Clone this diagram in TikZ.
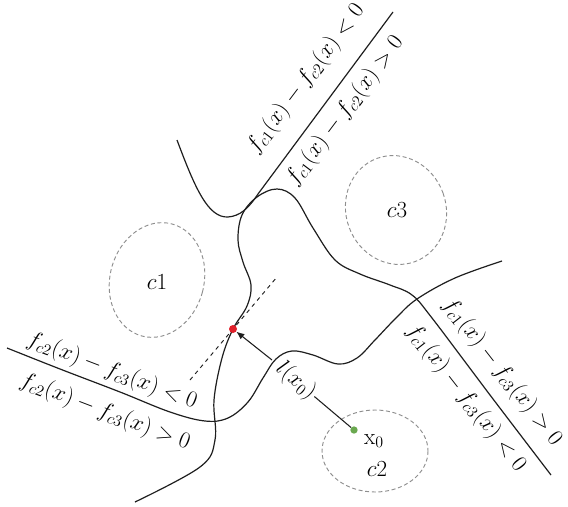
\documentclass[tikz,border=0pt]{standalone}
\usepackage{amsmath,amssymb}
\usepackage{tikz}
\usetikzlibrary{arrows.meta,positioning,calc}
\definecolor{ink}{HTML}{1E1E1E}
\definecolor{ashgray}{HTML}{8E8E8E}
\definecolor{dotred}{HTML}{E0202A}
\definecolor{dotgreen}{HTML}{6AA84F}

\begin{document}
\begin{tikzpicture}[x=0.75pt,y=-0.75pt,font=\fontsize{18}{21}\selectfont,
  bound/.style={ink,line width=0.9pt},
  region/.style={ashgray,densely dashed,line width=0.7pt},
  tangent/.style={ink,dashed,line width=0.7pt},
  dot/.style={circle,inner sep=0pt,minimum size=#1},
  lbl/.style={inner sep=1pt}]
  \useasboundingbox (0,0) rectangle (568,507);
  % class regions
  \draw[region,rotate around={-15:(157,280)}] (157,280) ellipse (47 and 58);
  \draw[region,rotate around={20:(396,210)}] (396,210) ellipse (50 and 55);
  \draw[region] (375,451) ellipse (53 and 41);
  \node[lbl] (c1) at (157,282) {$c1$};
  \node[lbl] (c3) at (397,210) {$c3$};
  \node[lbl] (c2) at (377,469) {$c2$};
  % decision boundaries
  \draw[bound] (177,140) .. controls (195,188) and (208,218) .. (228,217)
    .. controls (240,216) and (248,209) .. (258,194) -- (393,12);
  \draw[bound] plot[smooth,tension=0.6] coordinates {(135,502) (200,467)
    (215,440) (214,400) (222,358) (233,329) (247,306) (251,285) (243,262)
    (238,240) (242,215) (257,197) (277,189) (295,198) (313,228) (335,260)
    (360,274) (390,285) (412,295) (432,318) (490,395) (551,475)};
  \draw[bound] plot[smooth,tension=0.6] coordinates {(7,348) (60,369)
    (120,392) (170,412) (205,421) (228,418) (248,402) (263,378) (276,359)
    (292,351) (313,355) (338,364) (357,358) (375,340) (396,318) (417,299)
    (455,278) (502,261)};
  \node[rotate=53,lbl] (ab1) at (306,79) {$f_{c1}(x)-f_{c2}(x)<0$};
  \node[rotate=53,lbl] (ab2) at (345,111) {$f_{c1}(x)-f_{c2}(x)>0$};
  \node[rotate=-21,lbl] (bc1) at (112,371) {$f_{c2}(x)-f_{c3}(x)<0$};
  \node[rotate=-21,lbl] (bc2) at (105,412) {$f_{c2}(x)-f_{c3}(x)>0$};
  \node[rotate=-52,lbl] (ac1) at (502,372) {$f_{c1}(x)-f_{c3}(x)>0$};
  \node[rotate=-52,lbl] (ac2) at (466,398) {$f_{c1}(x)-f_{c3}(x)<0$};
  % projection of x0
  \coordinate (t1) at (190,380);
  \coordinate (t2) at (277,277);
  \draw[tangent] (t1) -- (t2);
  \node[dot=6pt,fill=dotred] (p) at (233,329) {};
  \node[dot=5.5pt,fill=dotgreen] (x0) at (354,430) {};
  \node[lbl] (x0lbl) at (374,441) {$\mathrm{x}_0$};
  \node[rotate=-40,lbl] (lx) at (296,381) {$l(x_0)$};
  \coordinate (q) at (272,360);
  \draw[ink,line width=0.8pt] (x0) -- (lx);
  \draw[ink,line width=0.8pt,-{Latex[length=6pt,width=5pt]}] (q) -- (p);
\end{tikzpicture}
\end{document}
